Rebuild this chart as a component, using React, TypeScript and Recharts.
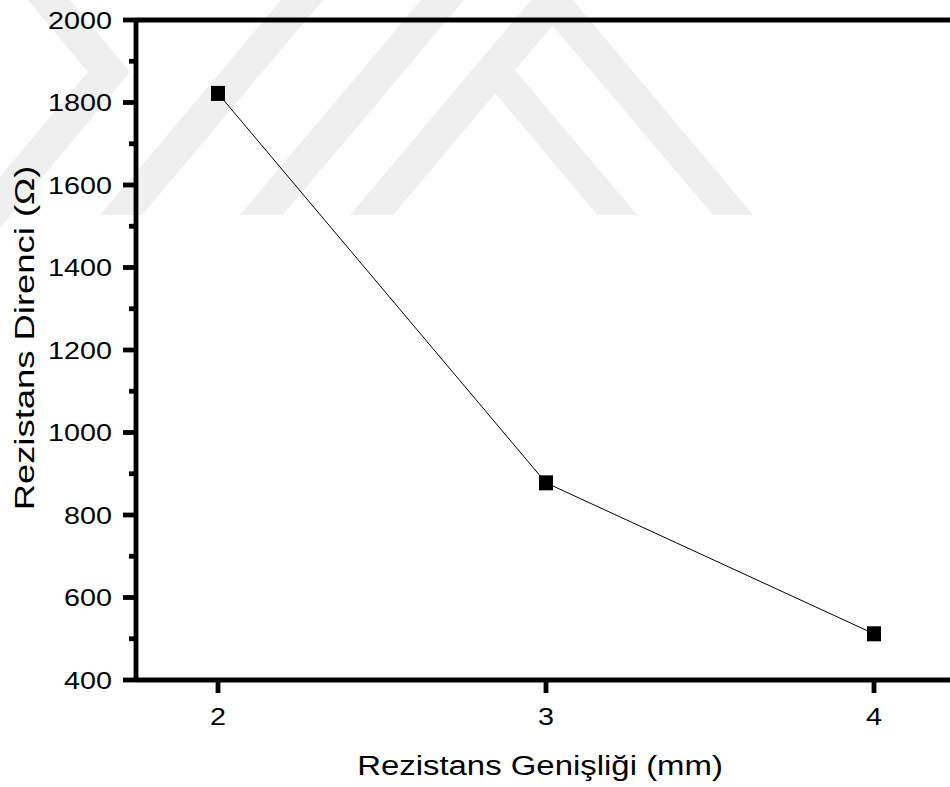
import React from 'react';
import { LineChart, Line, XAxis, YAxis, ReferenceLine } from 'recharts';

// Resistor width (mm) and measured resistance (Ω)
const widthsMm = [2, 3, 4];
const resistanceOhm = [1822, 878, 512];

// Axis ticks
const xTicks = [2, 3, 4];
const yTicks = [400, 500, 600, 700, 800, 900, 1000, 1100, 1200, 1300, 1400, 1500, 1600, 1700, 1800, 1900, 2000];

const xTitle = 'Rezistans Genişliği (mm)';
const yTitle = 'Rezistans Direnci (Ω)';

const data = widthsMm.map((w, i) => ({ width: w, resistance: resistanceOhm[i] }));

const FONT = '"Liberation Sans", Arial, sans-serif';
const FRAME = 4.8;

const YTick = (props: any) => {
  const { x, y, payload } = props;
  const major = payload.value % 200 === 0;
  return (
    <g>
      <line x1={x - (major ? 13 : 7)} x2={x} y1={y} y2={y} stroke="#000" strokeWidth={FRAME} />
      {major && (
        <text
          transform={`translate(${x - 24},${y + 8.5}) scale(1.25,1)`}
          textAnchor="end"
          fontSize={23}
          fontFamily={FONT}
          fill="#000"
        >
          {payload.value}
        </text>
      )}
    </g>
  );
};

const XTick = (props: any) => {
  const { x, y, payload } = props;
  return (
    <g>
      <line x1={x} x2={x} y1={y} y2={y + 13} stroke="#000" strokeWidth={FRAME} />
      <text
        transform={`translate(${x},${y + 45}) scale(1.25,1)`}
        textAnchor="middle"
        fontSize={23}
        fontFamily={FONT}
        fill="#000"
      >
        {payload.value}
      </text>
    </g>
  );
};

const SquareDot = (props: any) => {
  const { cx, cy, index } = props;
  if (cx == null || cy == null) return null;
  return <rect key={`d${index}`} x={cx - 7} y={cy - 7.5} width={14} height={15} fill="#000" />;
};

// Faint background emblem made of diagonal bands
const emblem = [
  '28,0 70,0 130,72 0,228 0,177 88,72',
  '100,215 142,215 323,0 281,0',
  '240,215 283,215 464,0 421,0',
  '350,215 393,215 574,0 531,0',
  '495,93 597,215 637,215 515,70',
  '531,0 573,0 753,215 713,215',
];

export default function App() {
  return (
    <div style={{ position: 'absolute', left: 0, top: 0, width: 950, height: 787, overflow: 'hidden', background: '#fff' }}>
      <svg width={950} height={787} style={{ position: 'absolute', left: 0, top: 0 }}>
        {emblem.map((pts, i) => (
          <polygon key={i} points={pts} fill="#efefef" />
        ))}
      </svg>
      <LineChart width={970} height={787} data={data} margin={{ top: 20, right: 14, bottom: 0, left: 0 }}>
        <XAxis
          dataKey="width"
          type="number"
          domain={[1.75, 4.25]}
          ticks={xTicks}
          allowDataOverflow
          height={107}
          axisLine={{ stroke: '#000', strokeWidth: FRAME }}
          tickLine={false}
          tickSize={0}
          tickMargin={0}
          tick={<XTick />}
          label={{
            content: () => (
              <text
                transform={`translate(540,775) scale(1.176,1)`}
                textAnchor="middle"
                fontSize={28}
                fontFamily={FONT}
                fill="#000"
              >
                {xTitle}
              </text>
            ),
          }}
        />
        <YAxis
          type="number"
          domain={[400, 2000]}
          ticks={yTicks}
          interval={0}
          allowDataOverflow
          width={136}
          axisLine={{ stroke: '#000', strokeWidth: FRAME }}
          tickLine={false}
          tickSize={0}
          tickMargin={0}
          tick={<YTick />}
          label={{
            content: () => (
              <text
                transform={`translate(34,338) rotate(-90) scale(1.3,1)`}
                textAnchor="middle"
                fontSize={28}
                fontFamily={FONT}
                fill="#000"
              >
                {yTitle}
              </text>
            ),
          }}
        />
        <ReferenceLine y={2000} stroke="#000" strokeWidth={FRAME} ifOverflow="visible" />
        <ReferenceLine x={4.25} stroke="#000" strokeWidth={FRAME} ifOverflow="visible" />
        <Line
          type="linear"
          dataKey="resistance"
          stroke="#000"
          strokeWidth={1}
          dot={<SquareDot />}
          activeDot={false}
          isAnimationActive={false}
        />
      </LineChart>
    </div>
  );
}
